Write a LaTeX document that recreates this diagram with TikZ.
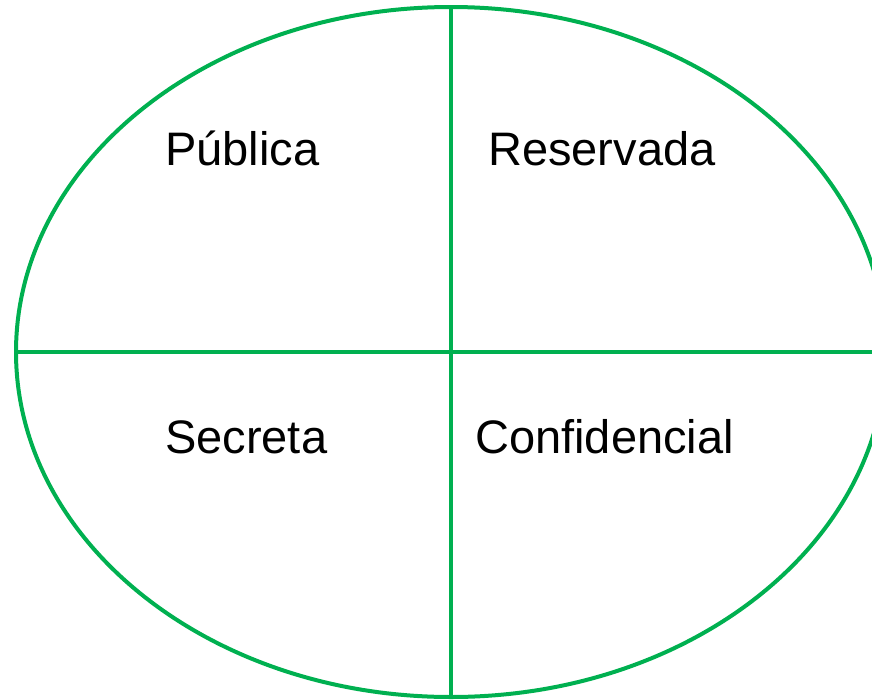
\documentclass[tikz,border=0pt]{standalone}
\usepackage{fontspec}
\setmainfont{Liberation Sans}
\usetikzlibrary{shapes.geometric}
\definecolor{leafgreen}{RGB}{0,176,80}
\tikzset{
    divider/.style={draw=leafgreen, line width=4pt},
    label/.style={anchor=base west, inner sep=0pt, font=\fontsize{47}{56}\selectfont}
}
\begin{document}
\begin{tikzpicture}[x=1pt, y=-1pt]
        \useasboundingbox (0, 0) rectangle (872, 699);
        \clip (0, 0) rectangle (872, 699);
        \node[divider, ellipse, minimum width=870pt, minimum height=690pt, inner sep=0pt] (oval) at (451, 352) {};
        \coordinate (edge) at (872, 352);
        \draw[divider] (oval.north) -- (oval.south);
        \draw[divider] (oval.west) -- (edge);
        \node[label] (pub) at (165, 165) {Pública};
        \node[label] (res) at (488, 165) {Reservada};
        \node[label] (sec) at (165, 453) {Secreta};
        \node[label] (conf) at (475, 453) {Confidencial};
    \end{tikzpicture}
\end{document}
